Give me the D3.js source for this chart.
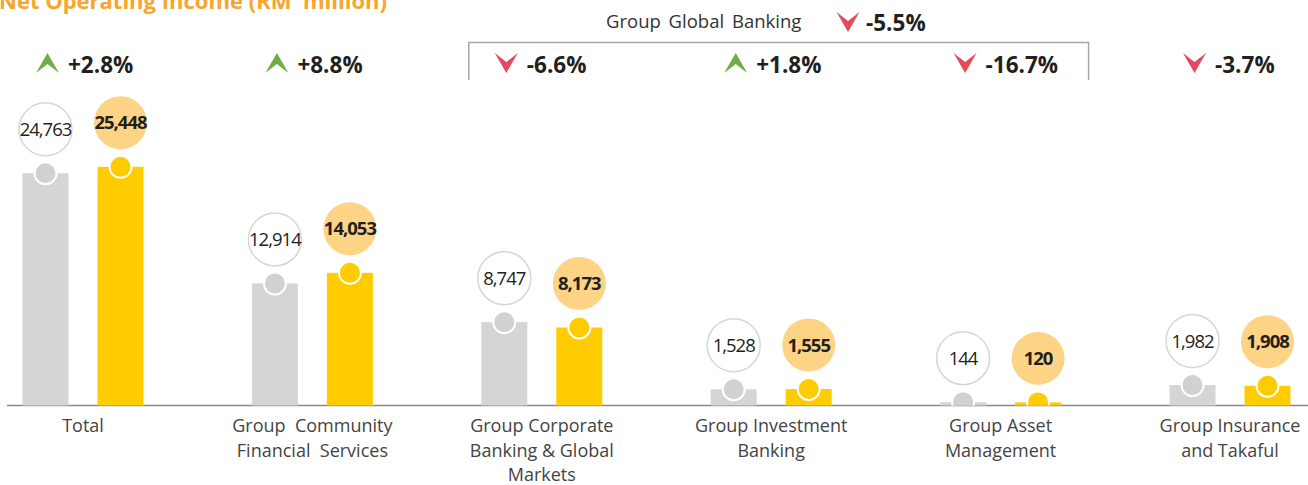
<!DOCTYPE html>
<html><head><meta charset="utf-8">
<script src="https://cdn.jsdelivr.net/npm/d3@7"></script>
<style>body{margin:0;background:#fff}svg{display:block}text{font-family:"Open Sans",sans-serif}</style>
</head><body><svg id="c" width="1308" height="485"></svg>
<script>
const categories = ["Total","Group Community Financial Services","Group Corporate Banking & Global Markets","Group Investment Banking","Group Asset Management","Group Insurance and Takaful"];
const labelLines = [["Total"],["Group  Community","Financial  Services"],["Group Corporate","Banking & Global","Markets"],["Group Investment","Banking"],["Group Asset","Management"],["Group Insurance","and Takaful"]];
const prevValues = [24763,12914,8747,1528,144,1982];
const currValues = [25448,14053,8173,1555,120,1908];
const changes = [2.8,8.8,-6.6,1.8,-16.7,-3.7];
const groupTitle = "Group Global Banking";
const groupChange = -5.5;
const groupMembers = ["Group Corporate Banking & Global Markets","Group Asset Management"];
const title = "Net Operating Income (RM' million)";

const svg = d3.select("#c");
const base = 405.5;
const x = d3.scalePoint().domain(categories).range([83,1230]);
const y = d3.scaleLinear().domain([-215,26000]).range([base, base-0.0093*26215]);
const off = 37.5, bw = 46, dotR = 11, bubR = 26.5;
const fmt = d3.format(",");
const fmtPct = v => (v>0?"+":"") + v.toFixed(1) + "%";

svg.append("text").attr("x",-1).attr("y",9).attr("font-size",22).attr("font-weight",700)
  .attr("fill","#F6A52E").text(title);

// axis
svg.append("line").attr("x1",7).attr("x2",1308).attr("y1",base).attr("y2",base)
  .attr("stroke","#8a8a8a").attr("stroke-width",1.3);

const series = [
  {vals: prevValues, dx:-off, bar:"#D5D5D7", dot:"#D1D1D3", bub:"#fff", bubStroke:"#D6D6D6", weight:400},
  {vals: currValues, dx: off, bar:"#FFCC00", dot:"#FFCC00", bub:"#FDD386", bubStroke:"none", weight:700}
];
svg.append("defs").append("clipPath").attr("id","above").append("rect")
  .attr("x",0).attr("y",0).attr("width",1308).attr("height",base);

series.forEach(s=>{
  const g = svg.append("g");
  categories.forEach((c,i)=>{
    const cx = x(c)+s.dx, top = y(s.vals[i]);
    g.append("rect").attr("x",cx-bw/2).attr("y",top).attr("width",bw).attr("height",base-top).attr("fill",s.bar);
    g.append("circle").attr("cx",cx).attr("cy",top).attr("r",dotR).attr("fill",s.dot)
      .attr("stroke","#fff").attr("stroke-width",2).attr("clip-path","url(#above)");
    const by = top-44;
    g.append("circle").attr("cx",cx).attr("cy",by).attr("r",bubR).attr("fill",s.bub)
      .attr("stroke",s.bubStroke).attr("stroke-width",1.5);
    g.append("text").attr("x",cx).attr("y",by+6.5).attr("text-anchor","middle").attr("font-size",18.5)
      .attr("font-weight",s.weight).attr("letter-spacing",-1).attr("fill","#231f20").text(fmt(s.vals[i]));
  });
});

function chevron(g, cx, topY, up, w=23, h=20){
  const p = up
    ? [[cx,topY],[cx+w/2,topY+h],[cx,topY+h*0.55],[cx-w/2,topY+h]]
    : [[cx-w/2,topY],[cx,topY+h*0.45],[cx+w/2,topY],[cx,topY+h]];
  g.append("path").attr("d","M"+p.map(d=>d.join(",")).join("L")+"Z")
    .attr("fill", up ? "#6DAE45" : "#E14B5C");
}

const cg = svg.append("g");
categories.forEach((c,i)=>{
  const ax = x(c)-off+2;
  chevron(cg, ax, 53, changes[i]>0);
  cg.append("text").attr("x",x(c)-15).attr("y",72.5).attr("font-size",22.5).attr("font-weight",700)
    .attr("fill","#231f20").text(fmtPct(changes[i]));
});

// bracket
const bl = x(groupMembers[0])-73, br = x(groupMembers[1])+88;
svg.append("path").attr("d",`M${bl},80V42.5H${br}V80`).attr("fill","none").attr("stroke","#A8A8A8").attr("stroke-width",1.5);
svg.append("text").attr("x",606).attr("y",28).attr("font-size",18.5).attr("fill","#333").attr("word-spacing",3).text(groupTitle);
chevron(svg, 848, 12, groupChange>0);
svg.append("text").attr("x",866).attr("y",31).attr("font-size",22.5).attr("font-weight",700).attr("fill","#231f20").text(fmtPct(groupChange));

// x labels
const lg = svg.append("g");
categories.forEach((c,i)=>{
  const t = lg.append("text").attr("x",x(c)).attr("y",432).attr("text-anchor","middle")
    .attr("font-size",18).attr("fill","#444");
  labelLines[i].forEach((l,j)=> t.append("tspan").attr("x",x(c)).attr("dy", j?24.5:0).attr("xml:space","preserve").text(l));
});
</script></body></html>
